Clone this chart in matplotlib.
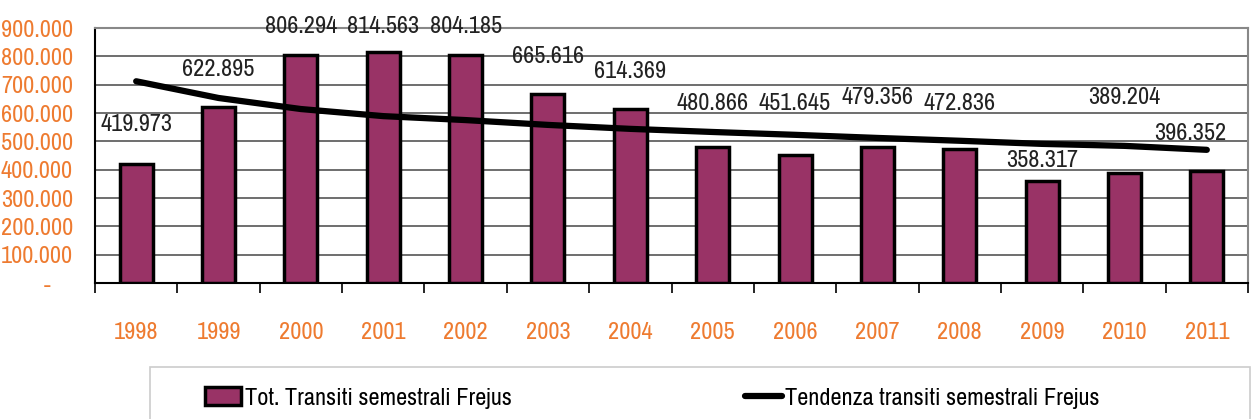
import matplotlib.pyplot as plt
import numpy as np
from matplotlib.patches import Rectangle
from matplotlib.ticker import FuncFormatter

years = ["1998", "1999", "2000", "2001", "2002", "2003", "2004",
         "2005", "2006", "2007", "2008", "2009", "2010", "2011"]
transiti = [419973, 622895, 806294, 814563, 804185, 665616, 614369,
            480866, 451645, 479356, 472836, 358317, 389204, 396352]
tendenza = [712000, 653000, 614000, 589000, 575000, 558000, 544000,
            533000, 523000, 512000, 502000, 491000, 484000, 470000]
# heights where the value labels sit (as in the original Excel chart)
label_y = [561000, 754000, 905000, 905000, 905000, 800000, 747000,
           635000, 635000, 653000, 635000, 432000, 656000, 526000]
label_dx = [0, 0, 0, 0, 0, 0, 0, 0, 0, 0, 0, 0, 0, -0.2]

plt.rcParams['font.family'] = ['Archivo Narrow', 'Liberation Sans', 'DejaVu Sans']
orange = "#EE7B30"
plum = "#993366"

fig = plt.figure(figsize=(12.54, 4.19), dpi=100)
ax = fig.add_axes([95/1254, 1 - 283/419, 1153/1254, 255/419])

x = np.arange(len(years))
bars = ax.bar(x, transiti, width=0.4, color=plum, edgecolor="black", linewidth=2.5, zorder=3,
              label="Tot. Transiti semestrali Frejus")
trend, = ax.plot(x, tendenza, color="black", linewidth=4.5, solid_capstyle="round", zorder=4,
                 label="Tendenza transiti semestrali Frejus")

for i in range(len(years)):
    ax.text(x[i] + label_dx[i], label_y[i], f"{transiti[i]/1000:.3f}", ha="center", va="center",
            fontsize=17.5, color="#222222", zorder=5)

ax.set_xlim(-0.5, len(years) - 0.5)
ax.set_ylim(0, 900000)
ax.set_yticks(np.arange(0, 900001, 100000))
ax.yaxis.set_major_formatter(FuncFormatter(
    lambda v, p: "-    " if v == 0 else f"{int(v):,}".replace(",", ".")))
ax.tick_params(axis="y", length=0, pad=16, labelsize=17.5, labelcolor=orange)
ax.grid(axis="y", color="#555555", linewidth=1.2, zorder=1)

ax.set_xticks(x)
ax.set_xticklabels(years)
ax.set_xticks(np.arange(-0.5, len(years)), minor=True)
ax.tick_params(axis="x", which="major", length=0, pad=28, labelsize=17.5, labelcolor=orange)
ax.tick_params(axis="x", which="minor", length=7, width=1.2, color="black")

for s in ["top", "right"]:
    ax.spines[s].set_color("#888888")
    ax.spines[s].set_linewidth(1.5)
ax.spines["left"].set_linewidth(1.5)
ax.spines["bottom"].set_linewidth(1.5)

fig.patches.append(Rectangle((150/1254, -0.05), 1100/1254, 1 - 367/419 + 0.05,
                             transform=fig.transFigure, facecolor="white",
                             edgecolor="#cccccc", linewidth=1.2))
fig.legend(handles=[bars, trend], loc="center left", bbox_to_anchor=(205/1254, 1 - 398/419),
           ncol=2, frameon=False, fontsize=17.5, handlelength=1.5, handletextpad=0.15,
           columnspacing=9.6, borderaxespad=0, borderpad=0)

plt.savefig("out.png", dpi=100)
